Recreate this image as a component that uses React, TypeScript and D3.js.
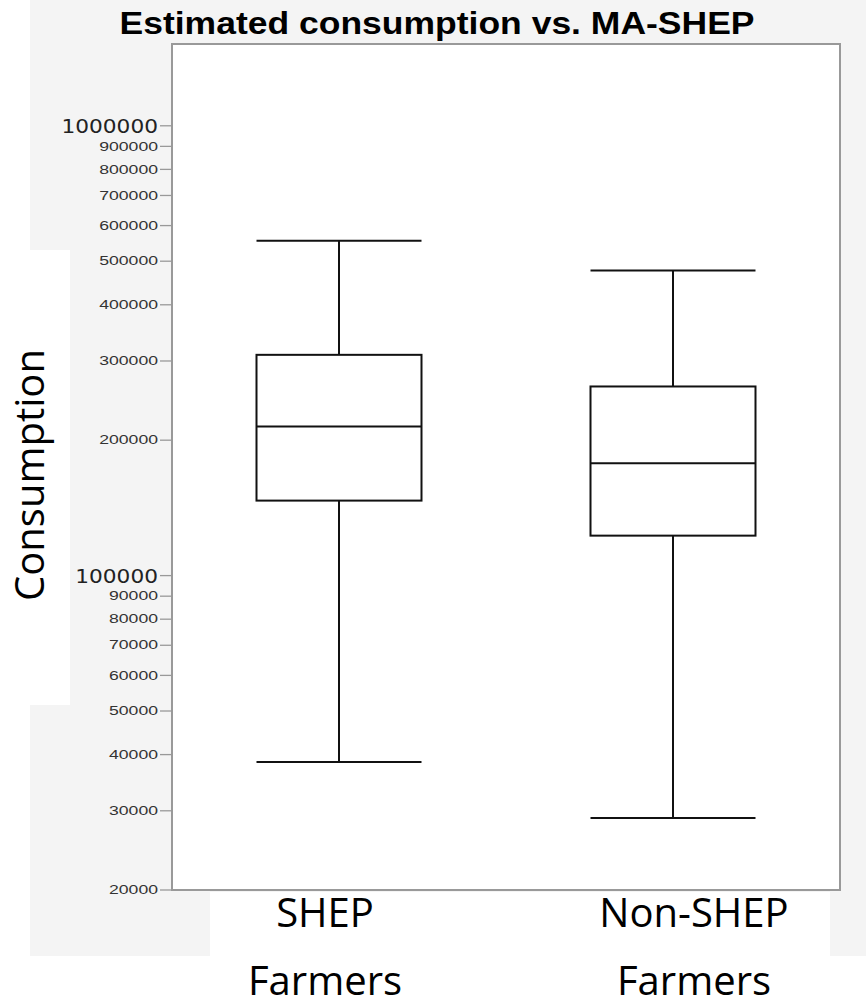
import React from "react";
import * as d3 from "d3";

const categories = ["SHEP Farmers", "Non-SHEP Farmers"];
const whiskerLow = [38500, 28900];
const q1 = [146800, 122700];
const median = [214500, 177800];
const q3 = [309600, 263300];
const whiskerHigh = [555000, 476700];
const minorTicks = [20000, 30000, 40000, 50000, 60000, 70000, 80000, 90000, 200000, 300000, 400000, 500000, 600000, 700000, 800000, 900000];
const majorTicks = [100000, 1000000];

const W = 866;
const H = 1008;
const plot = { left: 172, top: 44, right: 840, bottom: 890 };

export default function App() {
  const y = d3.scaleLog().domain([20000, 1.52e6]).range([plot.bottom, plot.top]);
  const x = d3.scaleBand().domain(categories).range([plot.left, plot.right]).paddingInner(0).paddingOuter(0);
  const labelX = d3.scalePoint().domain(categories).range([325, 694]);
  const half = x.bandwidth() * 0.247;
  const fmt = d3.format("d");

  return (
    <svg width={W} height={H} style={{ position: "absolute", left: 0, top: 0, background: "#fff" }}>
      <rect x={30} y={0} width={W - 30} height={956} fill="#f4f4f4" />
      <rect x={0} y={250} width={70} height={455} fill="#fff" />
      <rect x={210} y={892} width={620} height={64} fill="#fff" />

      <text x={437} y={34} textAnchor="middle" fontFamily="'Liberation Sans', Arial, sans-serif" fontWeight="bold" fontSize={31} textLength={635} lengthAdjust="spacingAndGlyphs" fill="#000">
        Estimated consumption vs. MA-SHEP
      </text>

      <rect x={plot.left} y={plot.top} width={plot.right - plot.left} height={plot.bottom - plot.top} fill="#fff" stroke="#999" strokeWidth={2} />

      {minorTicks.concat(majorTicks).map((t) => (
        <line key={"t" + t} x1={160} x2={plot.left} y1={y(t)} y2={y(t)} stroke="#999" strokeWidth={1.3} />
      ))}
      {minorTicks.map((t) => {
        const s = fmt(t);
        return (
          <text key={"l" + t} x={158} y={y(t)} dy="0.35em" textAnchor="end" fontFamily="'Liberation Sans', Arial, sans-serif" fontSize={12} fill="#333" textLength={s.length * 9.8} lengthAdjust="spacingAndGlyphs">
            {s}
          </text>
        );
      })}
      {majorTicks.map((t) => {
        const s = fmt(t);
        return (
          <text key={"m" + t} x={158} y={y(t)} dy="0.36em" textAnchor="end" fontFamily="'DejaVu Sans', sans-serif" fontSize={20} fill="#222" textLength={s.length * 13.8} lengthAdjust="spacingAndGlyphs">
            {s}
          </text>
        );
      })}

      {categories.map((c, i) => {
        const cx = (x(c) as number) + x.bandwidth() / 2;
        return (
          <g key={c} stroke="#111" strokeWidth={2} fill="none">
            <line x1={cx - half} x2={cx + half} y1={y(whiskerHigh[i])} y2={y(whiskerHigh[i])} />
            <line x1={cx} x2={cx} y1={y(whiskerHigh[i])} y2={y(q3[i])} />
            <rect x={cx - half} y={y(q3[i])} width={half * 2} height={y(q1[i]) - y(q3[i])} fill="#fff" />
            <line x1={cx - half} x2={cx + half} y1={y(median[i])} y2={y(median[i])} />
            <line x1={cx} x2={cx} y1={y(q1[i])} y2={y(whiskerLow[i])} />
            <line x1={cx - half} x2={cx + half} y1={y(whiskerLow[i])} y2={y(whiskerLow[i])} />
          </g>
        );
      })}

      {categories.map((c) => {
        const words = c.split(" ");
        return (
          <text key={"x" + c} textAnchor="middle" fontFamily="'Open Sans', 'Noto Sans', sans-serif" fontSize={40} fill="#000">
            {words.map((w, j) => (
              <tspan key={j} x={labelX(c)} y={927 + j * 68}>{w}</tspan>
            ))}
          </text>
        );
      })}

      <text transform="translate(44,475) rotate(-90)" textAnchor="middle" fontFamily="'Open Sans', 'Noto Sans', sans-serif" fontSize={40} fill="#000">
        Consumption
      </text>
    </svg>
  );
}
